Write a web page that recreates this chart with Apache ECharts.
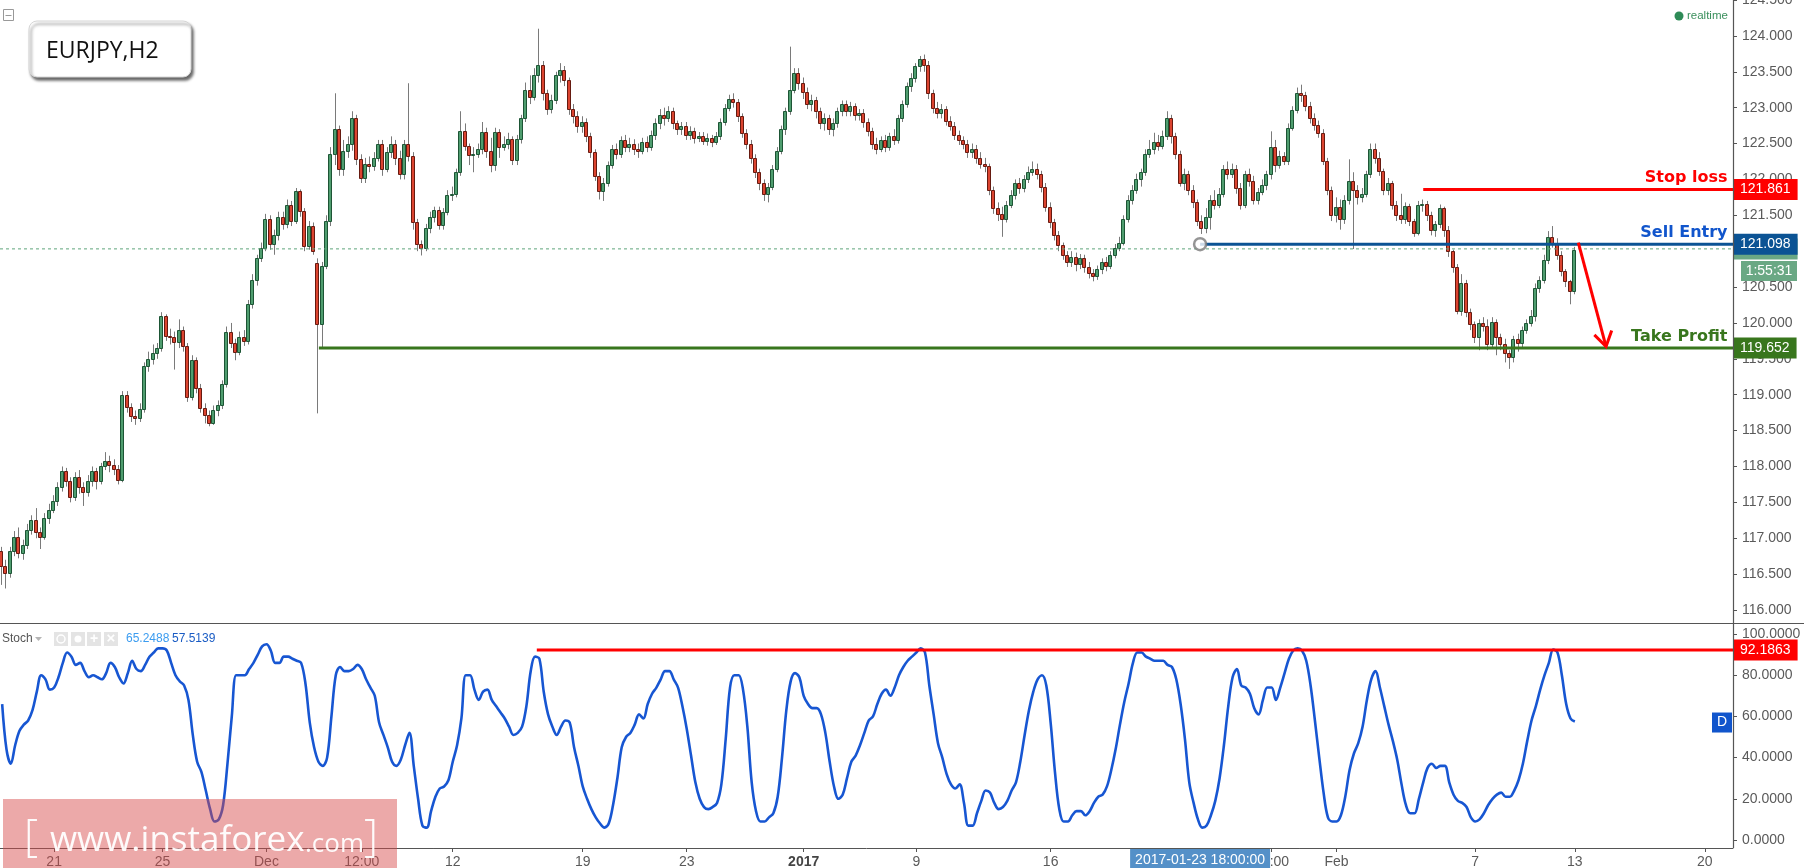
<!DOCTYPE html>
<html><head><meta charset="utf-8">
<script src="https://cdn.jsdelivr.net/npm/echarts@6/dist/echarts.min.js"></script>
<style>html,body{margin:0;padding:0;background:#fff;overflow:hidden}#c{width:1804px;height:868px}</style>
</head><body><div id="c"></div>
<script>
// ---- Candles [open, close, low, high], one per bar ----
const candlesNov = [
[116.82,116.62,116.35,116.88],[116.62,116.52,116.30,116.70],[116.52,116.82,116.45,116.88],[116.82,117.02,116.75,117.10],
[117.02,116.80,116.72,117.15],[116.80,116.90,116.70,116.98],[116.90,117.12,116.85,117.20],[117.12,117.25,117.05,117.32],
[117.25,117.08,117.00,117.42],[117.08,117.02,116.85,117.15],[117.02,117.28,116.98,117.35],[117.28,117.40,117.20,117.48],
[117.40,117.52,117.35,117.60],[117.52,117.72,117.45,117.78],[117.72,117.93,117.65,118.00],[117.93,117.80,117.72,117.98],
[117.80,117.58,117.50,117.85],[117.58,117.85,117.52,117.92],[117.85,117.72,117.62,117.95],[117.72,117.65,117.45,117.78],
[117.65,117.80,117.58,117.88],[117.80,117.93,117.72,118.00],[117.93,117.80,117.68,117.98],[117.80,118.00,117.75,118.05],
[118.00,118.08,117.95,118.20],[118.08,118.02,117.92,118.15],[118.02,117.97,117.88,118.10],[117.97,117.81,117.75,118.02],
[117.81,119.00,117.78,119.05],[119.00,118.83,118.75,119.05],[118.83,118.70,118.62,118.88],[118.70,118.68,118.58,118.78],
[118.68,118.80,118.62,118.88],[118.80,119.40,118.75,119.45],[119.40,119.50,119.32,119.60],[119.50,119.58,119.42,119.70],
[119.58,119.65,119.50,119.72],[119.65,120.10,119.60,120.15],[120.10,119.82,119.75,120.12],[119.82,119.80,119.70,119.92],
[119.80,119.74,119.35,119.88],[119.74,119.90,119.65,120.05],[119.90,119.68,119.60,119.95],[119.68,118.97,118.90,119.72],
[118.97,119.48,118.92,119.55],[119.48,119.10,119.02,119.52],[119.10,118.82,118.75,119.15],[118.82,118.72,118.60,118.88],
[118.72,118.60,118.56,118.78],[118.60,118.78,118.58,118.85],[118.78,118.85,118.70,118.92],[118.85,119.15,118.80,119.20],
[119.15,119.88,119.10,119.95],[119.88,119.72,119.65,120.00],[119.72,119.60,119.48,119.78],[119.60,119.80,119.55,119.88],
[119.80,119.75,119.68,119.90],[119.75,120.26,119.70,120.32],[120.26,120.60,120.20,120.68],[120.60,120.90,120.52,120.95],
[120.90,121.05,120.85,121.12]
];
const candlesDec = [
[121.05,121.45,121.00,121.52],[121.45,121.10,121.02,121.50],[121.10,121.22,120.95,121.30],[121.22,121.48,121.15,121.55],
[121.48,121.38,121.30,121.55],[121.38,121.65,121.32,121.72],[121.65,121.42,121.35,121.70],[121.42,121.84,121.38,121.88],
[121.84,121.56,121.48,121.86],[121.56,121.07,121.00,121.60],[121.07,121.35,121.02,121.42],[121.35,121.00,120.95,121.40],
[120.84,119.99,118.74,120.90],[119.99,120.80,119.65,120.85],[120.80,121.42,120.75,121.50],[121.42,122.35,121.35,122.45],
[122.35,122.70,122.20,123.20],[122.70,122.15,122.05,122.75],[122.15,122.40,122.05,122.55],[122.40,122.50,122.30,122.60],
[122.50,122.85,122.40,122.95],[122.85,122.28,122.20,122.90],[122.28,122.02,121.95,122.35],[122.02,122.22,121.95,122.30],
[122.22,122.18,122.10,122.32],[122.18,122.30,122.12,122.38],[122.30,122.50,122.25,122.55],[122.50,122.14,122.05,122.55],
[122.14,122.38,122.10,122.45],[122.38,122.50,122.30,122.60],[122.50,122.30,122.20,122.55],[122.30,122.08,122.00,122.40],
[122.08,122.50,122.00,122.55],[122.50,122.33,122.25,123.34],[122.33,121.40,121.30,122.38],[121.40,121.10,121.00,121.45],
[121.10,121.05,120.94,121.15],[121.05,121.32,121.00,121.38],[121.32,121.48,121.25,121.55],[121.48,121.57,121.40,121.62],
[121.57,121.36,121.30,121.62],[121.36,121.55,121.30,121.60],[121.55,121.78,121.50,121.85],[121.78,121.80,121.70,121.90],
[121.80,122.10,121.75,122.15],[122.10,122.68,122.05,122.95],[122.68,122.46,122.40,122.78],[122.46,122.34,122.20,122.50],
[122.34,122.36,122.10,122.45],[122.36,122.42,122.30,122.50],[122.42,122.66,122.35,122.80],[122.66,122.40,122.30,122.72],
[122.40,122.20,122.10,122.58],[122.20,122.66,122.12,122.72],[122.66,122.45,122.30,122.70],[122.45,122.50,122.40,122.60],
[122.50,122.56,122.42,122.65],[122.56,122.27,122.20,122.60],[122.27,122.56,122.20,122.62],[122.56,122.85,122.50,122.90],
[122.85,123.25,122.80,123.35],[123.25,123.15,123.05,123.45],[123.15,123.45,123.10,123.55],[123.45,123.60,123.35,124.10],
[123.60,123.20,123.10,123.65],[123.20,122.98,122.90,123.25],[122.98,123.10,122.92,123.18],[123.10,123.45,123.05,123.50],
[123.45,123.52,123.35,123.62],[123.52,123.38,123.30,123.58],[123.38,122.98,122.90,123.42],[122.98,122.88,122.78,123.05],
[122.88,122.75,122.65,122.95],[122.75,122.80,122.65,122.88],[122.80,122.60,122.52,122.85],[122.60,122.38,122.30,122.65],
[122.38,122.05,121.98,122.42],[122.05,121.84,121.72,122.10],[121.84,121.95,121.70,122.02],[121.95,122.20,121.90,122.25],
[122.20,122.42,122.15,122.48],[122.42,122.35,122.28,122.50],[122.35,122.55,122.30,122.60],[122.55,122.45,122.38,122.62],
[122.45,122.50,122.38,122.58],[122.50,122.42,122.34,122.56],[122.42,122.40,122.30,122.50],[122.40,122.52,122.35,122.58],
[122.52,122.45,122.38,122.60],[122.45,122.62,122.40,122.68],[122.62,122.78,122.55,122.85],[122.78,122.90,122.70,122.98],
[122.90,122.85,122.75,123.00],[122.85,122.95,122.80,123.02],[122.95,122.78,122.70,123.00],[122.78,122.70,122.62,122.82],
[122.70,122.75,122.62,122.80],[122.75,122.62,122.55,122.80],[122.62,122.68,122.55,122.74],[122.68,122.58,122.50,122.72],
[122.58,122.60,122.52,122.66],[122.60,122.54,122.48,122.66],[122.54,122.58,122.47,122.64],[122.58,122.52,122.45,122.62],
[122.52,122.60,122.48,122.66],[122.60,122.80,122.55,122.85],[122.80,123.00,122.75,123.05],[123.00,123.12,122.95,123.18],
[123.12,123.08,123.00,123.20],[123.08,122.88,122.80,123.12],[122.88,122.65,122.58,122.92],[122.65,122.50,122.42,122.70],
[122.50,122.30,122.22,122.55],[122.30,122.10,122.02,122.35],[122.10,121.95,121.85,122.15],[121.95,121.80,121.70,122.00],
[121.80,121.90,121.68,121.95],[121.90,122.15,121.85,122.20],[122.15,122.40,122.10,122.45],[122.40,122.70,122.35,122.75],
[122.70,122.95,122.62,123.00],[122.95,123.25,122.90,123.85],[123.25,123.48,123.20,123.55],[123.48,123.35,123.25,123.55]
];
const candlesJan = [
[123.35,123.22,123.12,123.42],[123.22,123.05,122.98,123.28],[123.05,123.10,122.95,123.18],[123.10,122.95,122.85,123.15],
[122.95,122.78,122.70,123.00],[122.78,122.85,122.68,122.92],[122.85,122.70,122.62,122.90],[122.70,122.78,122.60,122.85],
[122.78,122.95,122.72,123.00],[122.95,123.05,122.88,123.10],[123.05,122.95,122.88,123.10],[122.95,123.02,122.88,123.08],
[123.02,122.90,122.82,123.06],[122.90,122.92,122.82,122.98],[122.92,122.80,122.72,122.98],[122.80,122.68,122.60,122.85],
[122.68,122.50,122.42,122.72],[122.50,122.42,122.35,122.58],[122.42,122.55,122.38,122.60],[122.55,122.45,122.38,122.62],
[122.45,122.60,122.40,122.65],[122.60,122.55,122.48,122.70],[122.55,122.85,122.50,122.90],[122.85,123.05,122.80,123.10],
[123.05,123.30,123.00,123.35],[123.30,123.42,123.22,123.48],[123.42,123.58,123.35,123.62],[123.58,123.68,123.50,123.72],
[123.68,123.60,123.50,123.74],[123.60,123.20,123.12,123.65],[123.20,123.00,122.92,123.25],[123.00,122.92,122.85,123.08],
[122.92,122.98,122.85,123.05],[122.98,122.82,122.75,123.02],[122.82,122.75,122.68,122.88],[122.75,122.62,122.55,122.80],
[122.62,122.55,122.48,122.68],[122.55,122.50,122.42,122.60],[122.50,122.38,122.30,122.55],[122.38,122.42,122.30,122.50],
[122.42,122.30,122.22,122.48],[122.30,122.22,122.15,122.38],[122.22,122.18,122.10,122.30],[122.18,121.85,121.78,122.22],
[121.85,121.60,121.52,121.90],[121.60,121.52,121.42,121.68],[121.52,121.45,121.20,121.62],[121.45,121.65,121.40,121.70],
[121.65,121.78,121.60,121.85],[121.78,121.95,121.72,122.00],[121.95,121.88,121.80,122.02],[121.88,122.00,121.82,122.06],
[122.00,122.10,121.95,122.18],[122.10,122.15,122.05,122.25],[122.15,122.08,122.00,122.22],[122.08,121.90,121.82,122.12],
[121.90,121.62,121.55,121.95],[121.62,121.40,121.32,121.68],[121.40,121.22,121.15,121.45],[121.22,121.08,121.00,121.28],
[121.08,120.95,120.88,121.12],[120.95,120.85,120.78,121.00],[120.85,120.92,120.78,121.00],[120.92,120.82,120.72,120.98],
[120.82,120.90,120.75,120.96],[120.90,120.78,120.70,120.95],[120.78,120.70,120.62,120.85],[120.70,120.65,120.58,120.75],
[120.65,120.75,120.60,120.80],[120.75,120.85,120.68,120.90],[120.85,120.80,120.72,120.92],[120.80,120.95,120.75,121.00],
[120.95,121.05,120.90,121.10],[121.05,121.12,121.00,121.20],[121.12,121.45,121.08,121.50],[121.45,121.72,121.40,121.78],
[121.72,121.85,121.65,121.92],[121.85,122.00,121.80,122.08],[122.00,122.10,121.90,122.15],[122.10,122.35,122.05,122.42],
[122.35,122.42,122.30,122.55],[122.42,122.52,122.35,122.65],[122.52,122.46,122.40,122.62],[122.46,122.60,122.42,122.68],
[122.60,122.86,122.55,122.95],[122.86,122.60,122.50,122.90],[122.60,122.35,122.28,122.65],[122.35,121.95,121.90,122.40],
[121.95,122.08,121.85,122.15],[122.08,121.85,121.78,122.12],[121.85,121.68,121.60,121.92],[121.68,121.42,121.35,121.72],
[121.42,121.32,121.24,121.50],[121.32,121.48,121.25,121.60],[121.48,121.72,121.30,121.78],[121.72,121.65,121.58,121.85],
[121.65,121.80,121.60,121.88],[121.80,122.14,121.75,122.20],[122.14,122.08,122.00,122.25],[122.08,122.15,122.02,122.22],
[122.15,121.88,121.80,122.20],[121.88,121.65,121.58,121.95],[121.65,122.07,121.60,122.12],[122.07,121.98,121.90,122.15],
[121.98,121.72,121.65,122.05],[121.72,121.82,121.65,121.88],[121.82,121.92,121.78,122.00],[121.92,122.07,121.85,122.12],
[122.07,122.45,122.00,122.67],[122.45,122.20,122.10,122.55],[122.20,122.33,122.15,122.40],[122.33,122.26,122.20,122.38],
[122.26,122.72,122.20,122.78],[122.72,122.97,122.68,123.02],[122.97,123.20,122.92,123.28],[123.20,123.18,123.08,123.32],
[123.18,123.02,122.95,123.22],[123.02,122.85,122.78,123.08],[122.85,122.76,122.68,122.92],[122.76,122.65,122.58,122.82],
[122.65,122.26,122.20,122.70],[122.26,121.85,121.78,122.30],[121.85,121.50,121.42,121.90]
];
const candlesFeb = [
[121.50,121.62,121.40,121.75],[121.62,121.45,121.30,121.72],[121.45,121.72,121.38,121.78],[121.72,121.98,121.65,122.28],
[121.98,121.85,121.03,122.10],[121.85,121.75,121.65,121.92],[121.75,121.80,121.68,121.88],[121.80,122.08,121.75,122.12],
[122.08,122.42,122.02,122.50],[122.42,122.30,122.22,122.50],[122.30,122.12,122.05,122.38],[122.12,121.85,121.78,122.15],
[121.85,121.95,121.78,122.02],[121.95,121.65,121.58,121.98],[121.65,121.50,121.42,121.70],[121.50,121.45,121.38,121.80],
[121.45,121.63,121.38,121.68],[121.63,121.42,121.35,121.66],[121.42,121.26,121.20,121.45],[121.26,121.65,121.22,121.70],
[121.65,121.66,121.55,121.72],[121.66,121.50,121.42,121.70],[121.50,121.30,121.22,121.55],[121.30,121.38,121.20,121.42],
[121.38,121.60,121.32,121.65],[121.60,121.30,121.20,121.62],[121.30,121.00,120.92,121.35],[121.00,120.78,120.70,121.02],
[120.78,120.17,120.12,120.82],[120.17,120.55,120.10,120.68],[120.55,120.15,120.08,120.60],[120.15,119.98,119.90,120.20],
[119.98,119.80,119.72,120.02],[119.80,120.00,119.62,120.05],[120.00,119.96,119.88,120.08],[119.96,119.70,119.62,120.05],
[119.70,120.02,119.65,120.08],[120.02,119.80,119.55,120.05],[119.80,119.70,119.62,119.85],[119.70,119.58,119.45,119.78],
[119.58,119.52,119.36,119.62],[119.52,119.78,119.45,119.82],[119.78,119.72,119.60,119.85],[119.72,119.90,119.65,119.95],
[119.90,120.00,119.85,120.05],[120.00,120.10,119.95,120.18],[120.10,120.48,120.02,120.55],[120.48,120.60,120.42,120.65],
[120.60,120.88,120.55,120.95],[120.88,121.20,120.82,121.28],[121.20,121.12,121.05,121.35],[121.12,120.95,120.88,121.18],
[120.95,120.72,120.65,121.00],[120.72,120.58,120.50,120.75],[120.58,120.45,120.26,120.60],[120.45,121.02,120.40,121.06]
];
// ---- Stochastic (D) per bar ----
const stochNovDec = [
66,44,37,46,53,56,58,63,72,80, 78,73,74,79,86,91,89,85,86,82, 79,80,79,78,81,86,84,79,76,81,
87,83,82,85,89,91,93,93,92,86, 80,77,75,68,51,38,33,24,15,9, 10,17,37,60,80,80,80,83,86,90,
94,95,92,86,86,89,89,88,87,86, 76,57,45,38,36,40,60,80,84,82, 82,83,85,83,78,74,70,57,51,45,
38,36,39,46,52,36,20,7,6,14, 21,25,26,29,38,46,59,80,80,73, 68,72,73,68,65,62,59,55,51,52,
55,65,82,89,88,72,61,55,51,55, 58,57,45,36,26,20,15,11,8,6, 8,17,30,45,50,52,56,61,59,66,
71,74,78,82,82,78,74,65,54,41, 28,20,16,15,16,18,27,49,74,80, 80,73,55,28,14,9,9,11,13,21,
40,63,77,81,79
];
const stochJanFeb = [
70,66,64,64,61, 52,38,26,20,22,30,38,41,46,52, 58,60,66,71,73,70,74,80,84,87,
89,91,93,91,75,61,47,40,32,27, 25,27,18,7,7,13,19,24,23,18, 15,16,19,24,28,38,51,63,72,78,
80,75,57,33,15,9,9,12,14,14, 12,14,18,21,22,26,34,44,56,67, 76,86,91,91,89,88,87,87,87,85,
84,78,66,49,28,18,10,6,7,12, 19,30,46,65,79,83,75,74,71,64, 61,68,74,74,68,74,81,88,92,93,
92,87,75,58,40,23,11,9,9,12, 21,34,42,47,55,68,78,82,74,65, 56,48,39,27,17,13,13,20,28,35,
37,35,36,36,28,22,19,18,16,11, 9,10,13,17,20,22,23,21,21,24, 29,37,48,58,65,73,80,86,92.5,91,
80,66,59,57.5
];
// ---- Time-axis tick labels [bar, text] ----
const xTickLabels = [[12,'21'],[37,'25'],[61,'Dec'],[83,'12:00'],[104,'12'],[134,'19'],[158,'23'],[185,'2017'],
  [211,'9'],[242,'16'],[293,'12:00'],[308,'Feb'],[340,'7'],[363,'13'],[393,'20']];
// ---- Trade levels ----
const stopLoss = 121.861, sellEntry = 121.098, takeProfit = 119.652, lastPrice = 121.032;
const stopStartBar = 328, entryStartBar = 276.5, takeStartBar = 73.1;
const stochLevel = 92.1863, stochLevelStart = 123.4;
const stochK = 65.2488, stochDLast = 57.5139;
const arrowShaft = [[363.8,121.12],[370.2,119.67]];
const arrowHead = [[367.5,119.833],[370.2,119.671],[371.5,119.893]];
const crossBar = 276.5, crossText = '2017-01-23 18:00:00';

const TOTAL_BARS = 400, END = TOTAL_BARS - 0.5;
const cats = Array.from({length: TOTAL_BARS}, (_, i) => String(i));
const labelAt = {}; xTickLabels.forEach(([b, t]) => { labelAt[b] = t; });
const candles = candlesNov.concat(candlesDec, candlesJan, candlesFeb);
const candleData = candles.map((d, i) => [i, d[0], d[1], d[2], d[3]]);
const stoch = stochNovDec.concat(stochJanFeb);

const AX = '#5a5a5a', FONT = 'Arial, "Liberation Sans", sans-serif', BOLD = '"DejaVu Sans", Verdana, sans-serif';

function renderCandle(params, api) {
  const i = api.value(0), o = api.value(1), c = api.value(2), l = api.value(3), h = api.value(4);
  const pO = api.coord([i, o]), pC = api.coord([i, c]), pL = api.coord([i, l]), pH = api.coord([i, h]);
  const cx = Math.round(pO[0]);
  const up = c >= o;
  const y1 = Math.round(Math.min(pO[1], pC[1])), y2 = Math.round(Math.max(pO[1], pC[1]));
  const bh = Math.max(1, y2 - y1);
  return {type: 'group', children: [
    {type: 'line', shape: {x1: cx - 0.5, y1: pH[1], x2: cx - 0.5, y2: pL[1]}, style: {stroke: '#7a7a7a', lineWidth: 1}},
    {type: 'rect', shape: {x: cx - 2.5, y: y1 + 0.5, width: 3, height: bh},
     style: {fill: up ? '#4f9d6f' : '#db4430', stroke: up ? '#1d5535' : '#661a10', lineWidth: 1}}
  ]};
}

function boxLabel(text, bg) {
  return {show: true, formatter: text, distance: 0, backgroundColor: bg, color: '#fff', fontSize: 14,
    fontFamily: FONT, padding: [3, 7, 3, 7], lineHeight: 15};
}
function levelSeries(start, level, color, boxText, text, textColor, z, dash) {
  const s = {
    type: 'line', xAxisIndex: 1, yAxisIndex: 0, z: z, symbol: 'none', silent: true, clip: false,
    data: [[start, level], [END, level]],
    lineStyle: {color: color, width: dash ? 1 : 3, type: dash ? [3, 3] : 'solid'},
    endLabel: boxLabel(boxText, dash ? '#6aa884' : color)
  };
  if (text) {
    s.markPoint = {symbol: 'circle', symbolSize: 1, silent: true, itemStyle: {color: 'rgba(0,0,0,0)'},
      data: [{coord: [END, level], label: {show: true, formatter: text, position: [-5, -3], align: 'right',
        verticalAlign: 'bottom', color: textColor, fontSize: 16, fontWeight: 'bold', fontFamily: BOLD}}]};
  }
  return s;
}

const chart = echarts.init(document.getElementById('c'), null, {renderer: 'canvas'});
chart.setOption({
  animation: false,
  backgroundColor: '#ffffff',
  grid: [
    {left: 0, right: 71, top: 0, height: 610, containLabel: false, outerBoundsMode: 'none'},
    {left: 0, right: 71, top: 634, height: 206, containLabel: false, outerBoundsMode: 'none'}
  ],
  xAxis: [
    {type: 'category', gridIndex: 0, data: cats, show: false},
    {type: 'value', gridIndex: 0, min: -0.5, max: END, show: false, position: 'top', axisLine: {onZero: false}},
    {type: 'category', gridIndex: 1, data: cats, offset: 8,
      axisLine: {show: true, onZero: false, lineStyle: {color: '#555', width: 1}},
      axisTick: {show: true, alignWithLabel: true, length: 4, interval: (i) => labelAt[i] !== undefined, lineStyle: {color: '#555'}},
      axisLabel: {interval: 0, margin: 7, color: AX, fontSize: 14, fontFamily: FONT,
        formatter: (v, i) => { const t = labelAt[i]; if (t === undefined) return ''; return t === '2017' ? '{b|2017}' : t; },
        rich: {b: {fontWeight: 'bold', color: '#444', fontSize: 14, fontFamily: FONT}}},
      splitLine: {show: false}},
    {type: 'value', gridIndex: 1, min: -0.5, max: END, show: false, position: 'top', axisLine: {onZero: false}}
  ],
  yAxis: [
    {type: 'value', gridIndex: 0, position: 'right', min: 116, max: 124.5, interval: 0.5,
      axisLine: {show: false, onZero: false}, splitLine: {show: false},
      axisTick: {show: true, length: 4, lineStyle: {color: '#555'}},
      axisLabel: {showMinLabel: true, showMaxLabel: true, margin: 9, color: AX, fontSize: 14, fontFamily: FONT, formatter: (v) => v.toFixed(3)}},
    {type: 'value', gridIndex: 1, position: 'right', min: 0, max: 100, interval: 20,
      axisLine: {show: false, onZero: false}, splitLine: {show: false},
      axisTick: {show: true, length: 4, lineStyle: {color: '#555'}},
      axisLabel: {showMinLabel: true, showMaxLabel: true, margin: 9, color: AX, fontSize: 14, fontFamily: FONT, formatter: (v) => v.toFixed(4)}}
  ],
  series: [
    {type: 'custom', name: 'EURJPY', xAxisIndex: 0, yAxisIndex: 0, renderItem: renderCandle, encode: {x: 0, y: [1, 2, 3, 4]},
      data: candleData, clip: true, z: 2, silent: true},
    levelSeries(-0.5, lastPrice, '#5fa57c', lastPrice.toFixed(3), null, null, 3, true),
    levelSeries(takeStartBar, takeProfit, '#38761d', takeProfit.toFixed(3), 'Take Profit', '#38761d', 4, false),
    levelSeries(stopStartBar, stopLoss, '#ff0000', stopLoss.toFixed(3), 'Stop loss', '#ff0000', 4, false),
    levelSeries(entryStartBar, sellEntry, '#0b5394', sellEntry.toFixed(3), 'Sell Entry', '#1155cc', 6, false),
    {type: 'scatter', xAxisIndex: 1, yAxisIndex: 0, z: 8, silent: true, data: [[entryStartBar, sellEntry]], symbol: 'circle', symbolSize: 12,
      itemStyle: {color: '#ffffff', borderColor: '#7a7a7a', borderWidth: 2.5}},
    {type: 'line', xAxisIndex: 1, yAxisIndex: 0, z: 7, silent: true, symbol: 'none', clip: false, data: arrowShaft,
      lineStyle: {color: '#ff0000', width: 3}},
    {type: 'line', xAxisIndex: 1, yAxisIndex: 0, z: 7, silent: true, symbol: 'none', clip: false, data: arrowHead,
      lineStyle: {color: '#ff0000', width: 3, join: 'miter'}},
    {type: 'line', name: 'Stoch', xAxisIndex: 2, yAxisIndex: 1, z: 3, silent: true, symbol: 'none', smooth: 0.35, data: stoch,
      lineStyle: {color: '#1756d2', width: 2.6}},
    {type: 'line', xAxisIndex: 3, yAxisIndex: 1, z: 4, silent: true, symbol: 'none', clip: false,
      data: [[stochLevelStart, stochLevel], [END, stochLevel]], lineStyle: {color: '#ff0000', width: 3},
      endLabel: boxLabel(stochLevel.toFixed(4), '#ff0000')}
  ]
});

const crossX = chart.convertToPixel({xAxisIndex: 3}, crossBar);
const dY = chart.convertToPixel({yAxisIndex: 1}, stochDLast);
const lastY = chart.convertToPixel({yAxisIndex: 0}, lastPrice);
const axisX = chart.convertToPixel({xAxisIndex: 1}, END);
const G = [
  {type: 'line', z: 50, shape: {x1: 0, y1: 623.5, x2: 1804, y2: 623.5}, style: {stroke: '#555', lineWidth: 1.2}},
  {type: 'line', z: 50, shape: {x1: axisX + 0.5, y1: 0, x2: axisX + 0.5, y2: 848}, style: {stroke: '#555', lineWidth: 1.2}},
  // title box
  {type: 'rect', z: 60, shape: {x: 29, y: 21, width: 162, height: 56, r: 8},
    style: {fill: '#fff', stroke: '#d6d6d6', lineWidth: 1, shadowBlur: 3, shadowOffsetX: 2, shadowOffsetY: 3, shadowColor: 'rgba(0,0,0,0.6)'}},
  {type: 'text', z: 61, x: 46, y: 51, style: {text: 'EURJPY,H2', fill: '#111', font: '23px "Open Sans", Arial, sans-serif', verticalAlign: 'middle'}},
  {type: 'rect', z: 60, shape: {x: 3.5, y: 9.5, width: 10, height: 11}, style: {fill: 'none', stroke: '#999', lineWidth: 1}},
  {type: 'line', z: 60, shape: {x1: 5.5, y1: 15.5, x2: 11.5, y2: 15.5}, style: {stroke: '#999', lineWidth: 1}},
  // realtime
  {type: 'circle', z: 60, shape: {cx: 1679, cy: 16, r: 4.5}, style: {fill: '#2e8b57'}},
  {type: 'text', z: 60, x: 1687, y: 16, style: {text: 'realtime', fill: '#3a8f5c', font: '11.5px Arial, sans-serif', verticalAlign: 'middle'}},
  // countdown box under last price
  {type: 'rect', z: 60, shape: {x: 1741, y: lastY + 12, width: 56, height: 20}, style: {fill: '#6aa884'}},
  {type: 'text', z: 61, x: 1769, y: lastY + 22, style: {text: '1:55:31', fill: '#fff', font: '14px Arial, sans-serif', align: 'center', verticalAlign: 'middle'}},
  // stoch legend
  {type: 'text', z: 60, x: 2, y: 639, style: {text: 'Stoch', fill: '#555', font: '12px Arial, sans-serif', verticalAlign: 'middle'}},
  {type: 'polygon', z: 60, shape: {points: [[35, 637], [42, 637], [38.5, 641]]}, style: {fill: '#b5b5b5'}},
  {type: 'rect', z: 60, shape: {x: 54, y: 632, width: 14, height: 14}, style: {fill: '#e4e4e4'}},
  {type: 'circle', z: 61, shape: {cx: 61, cy: 639, r: 4}, style: {fill: 'none', stroke: '#fff', lineWidth: 1.5}},
  {type: 'rect', z: 60, shape: {x: 71, y: 632, width: 14, height: 14}, style: {fill: '#e4e4e4'}},
  {type: 'circle', z: 61, shape: {cx: 78, cy: 639, r: 3.5}, style: {fill: '#fff'}},
  {type: 'rect', z: 60, shape: {x: 87, y: 632, width: 14, height: 14}, style: {fill: '#e4e4e4'}},
  {type: 'text', z: 61, x: 94, y: 639, style: {text: '+', fill: '#fff', font: 'bold 14px Arial', align: 'center', verticalAlign: 'middle'}},
  {type: 'rect', z: 60, shape: {x: 104, y: 632, width: 14, height: 14}, style: {fill: '#e4e4e4'}},
  {type: 'text', z: 61, x: 111, y: 639, style: {text: '\u00d7', fill: '#fff', font: 'bold 15px Arial', align: 'center', verticalAlign: 'middle'}},
  {type: 'text', z: 60, x: 126, y: 639, style: {text: stochK.toFixed(4), fill: '#3b9cf0', font: '12px Arial, sans-serif', verticalAlign: 'middle'}},
  {type: 'text', z: 60, x: 172, y: 639, style: {text: stochDLast.toFixed(4), fill: '#1a5cc4', font: '12px Arial, sans-serif', verticalAlign: 'middle'}},
  // D box
  {type: 'rect', z: 60, shape: {x: 1712, y: dY - 9, width: 20, height: 20}, style: {fill: '#1155cc'}},
  {type: 'text', z: 61, x: 1722, y: dY + 1, style: {text: 'D', fill: '#fff', font: '14px Arial, sans-serif', align: 'center', verticalAlign: 'middle'}},
  // crosshair time box
  {type: 'rect', z: 60, shape: {x: crossX - 70, y: 849, width: 140, height: 20}, style: {fill: '#5490c8'}},
  {type: 'text', z: 61, x: crossX, y: 860, style: {text: crossText, fill: '#fff', font: '14px Arial, sans-serif', align: 'center', verticalAlign: 'middle'}},
  // watermark
  {type: 'rect', z: 90, shape: {x: 3, y: 799, width: 394, height: 70}, style: {fill: 'rgba(214,72,72,0.47)'}},
  {type: 'text', z: 91, x: 24, y: 838, style: {text: '[', fill: 'rgba(255,255,255,0.95)', font: '300 44px "Open Sans", sans-serif', verticalAlign: 'middle'}},
  {type: 'text', z: 91, x: 50, y: 841, style: {text: 'www.instaforex', fill: 'rgba(255,255,255,0.95)', font: '35px "Open Sans", sans-serif', verticalAlign: 'middle'}},
  {type: 'text', z: 91, x: 305, y: 845, style: {text: '.com', fill: 'rgba(255,255,255,0.95)', font: '26px "Open Sans", sans-serif', verticalAlign: 'middle'}},
  {type: 'text', z: 91, x: 364, y: 838, style: {text: ']', fill: 'rgba(255,255,255,0.95)', font: '300 44px "Open Sans", sans-serif', verticalAlign: 'middle'}}
];
chart.setOption({graphic: G});
</script>
</body></html>
